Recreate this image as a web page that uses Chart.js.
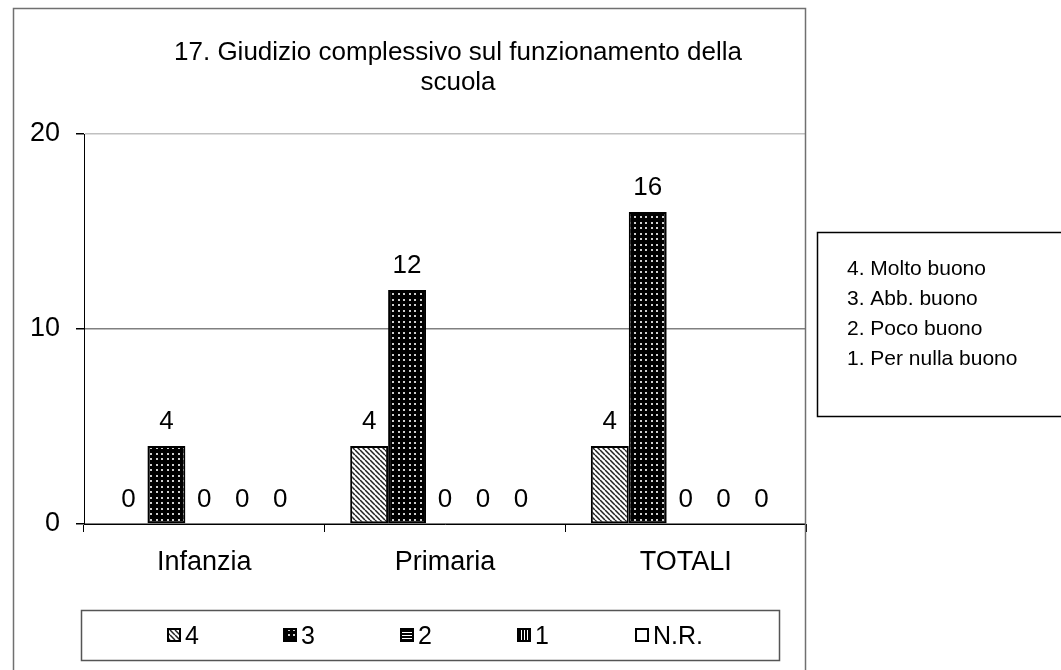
<!DOCTYPE html>
<html><head><meta charset="utf-8">
<script src="https://cdn.jsdelivr.net/npm/chart.js@4"></script>
<style>html,body{margin:0;padding:0;background:#fff;}canvas{display:block}</style>
</head><body>
<canvas id="c" width="1061" height="670"></canvas>
<script>
const titleLines = ['17. Giudizio complessivo sul funzionamento della', 'scuola'];
const categories = ['Infanzia', 'Primaria', 'TOTALI'];
const seriesLabels = ['4', '3', '2', '1', 'N.R.'];
const values4 = [0, 4, 4];
const values3 = [4, 12, 16];
const values2 = [0, 0, 0];
const values1 = [0, 0, 0];
const valuesNR = [0, 0, 0];
const yTicks = [0, 10, 20];
const keyLines = ['4. Molto buono', '3. Abb. buono', '2. Poco buono', '1. Per nulla buono'];

const FONT = '"Liberation Sans", Arial, sans-serif';
const canvas = document.getElementById('c');
const ctx0 = canvas.getContext('2d');

function makeTile(w, h, draw) {
  const c = document.createElement('canvas'); c.width = w; c.height = h;
  const g = c.getContext('2d'); draw(g, w, h); return ctx0.createPattern(c, 'repeat');
}
const patDiag = makeTile(5, 5, (g, w, h) => {
  g.fillStyle = '#fff'; g.fillRect(0, 0, w, h);
  g.strokeStyle = '#222'; g.lineWidth = 1.5; g.beginPath();
  for (let k = -1; k <= 1; k++) { g.moveTo(k * w, 0); g.lineTo(k * w + w, h); }
  g.stroke();
});
const patDots = makeTile(11, 11, (g, w, h) => {
  g.fillStyle = '#000'; g.fillRect(0, 0, w, h);
  g.fillStyle = '#d0d0d0';
  [[2, 2], [7, 2], [2, 7], [7, 7]].forEach(([x, y]) => g.fillRect(x, y, 2, 2));
});
const patHoriz = makeTile(3, 3, (g, w, h) => {
  g.fillStyle = '#000'; g.fillRect(0, 0, w, h);
  g.fillStyle = '#fff'; g.fillRect(0, 2, w, 1);
});
const patVert = makeTile(3, 3, (g, w, h) => {
  g.fillStyle = '#000'; g.fillRect(0, 0, w, h);
  g.fillStyle = '#fff'; g.fillRect(2, 0, 1, h);
});
const fills = [patDiag, patDots, patHoriz, patVert, '#fff'];
const seriesValues = [values4, values3, values2, values1, valuesNR];

const decor = {
  id: 'decor',
  beforeDraw(chart) {
    const c = chart.ctx; c.save(); c.fillStyle = '#fff'; c.fillRect(0, 0, chart.width, chart.height); c.restore();
  },
  afterDatasetsDraw(chart) {
    const c = chart.ctx; c.save();
    c.font = '26px ' + FONT; c.fillStyle = '#000'; c.textAlign = 'center'; c.textBaseline = 'alphabetic';
    chart.data.datasets.forEach((ds, i) => {
      chart.getDatasetMeta(i).data.forEach((bar, j) => {
        c.fillText(String(ds.data[j]), bar.x, bar.y - 17);
      });
    });
    c.restore();
  },
  afterDraw(chart) {
    const c = chart.ctx; c.save();
    c.strokeStyle = '#707070'; c.lineWidth = 1.5;
    c.strokeRect(13.5, 8.5, 792, 700);
    c.fillStyle = '#000'; c.textAlign = 'center'; c.textBaseline = 'alphabetic';
    c.font = '26px ' + FONT;
    c.fillText(titleLines[0], 458, 60);
    c.fillText(titleLines[1], 458, 90);
    c.strokeStyle = '#555'; c.lineWidth = 1.5;
    c.strokeRect(81.5, 610.5, 698, 50);
    const mx = [167, 283, 400, 517, 635];
    c.font = '25px ' + FONT; c.textAlign = 'left';
    chart.data.datasets.forEach((ds, i) => {
      c.fillStyle = fills[i]; c.fillRect(mx[i], 628, 14, 14);
      c.strokeStyle = '#000'; c.lineWidth = 2; c.strokeRect(mx[i] + 1, 629, 12, 12);
      c.fillStyle = '#000'; c.fillText(ds.label, mx[i] + 18, 644);
    });
    c.strokeStyle = '#000'; c.lineWidth = 1.5;
    c.strokeRect(817.5, 232.5, 300, 184);
    c.font = '21px ' + FONT;
    keyLines.forEach((t, i) => c.fillText(t, 847, 275 + i * 30));
    c.restore();
  }
};

new Chart(canvas, {
  type: 'bar',
  data: {
    labels: categories,
    datasets: seriesLabels.map((lab, i) => ({
      label: lab,
      data: seriesValues[i],
      backgroundColor: fills[i],
      borderColor: '#000',
      borderWidth: 2,
      borderSkipped: false,
      categoryPercentage: 0.788,
      barPercentage: 1
    }))
  },
  options: {
    responsive: false,
    animation: false,
    devicePixelRatio: 1,
    layout: { padding: { left: 0, top: 134, right: 255, bottom: 86 } },
    plugins: { legend: { display: false }, title: { display: false }, tooltip: { enabled: false } },
    scales: {
      x: {
        afterFit(s) { s.height = 60; },
        grid: { display: true, drawOnChartArea: false, drawTicks: true, tickLength: 8, tickColor: '#000', offset: true },
        border: { display: true, color: '#000', width: 1 },
        ticks: { color: '#000', font: { family: FONT, size: 27 }, padding: 14, maxRotation: 0 }
      },
      y: {
        min: 0, max: 20,
        afterFit(s) { s.width = 84; },
        afterBuildTicks(s) { s.ticks = yTicks.map(v => ({ value: v })); },
        grid: {
          color: (ctx) => (ctx.tick && ctx.tick.value === 20) ? '#c0c0c0' : '#808080',
          tickColor: '#000', tickLength: 8, lineWidth: 1.5
        },
        border: { display: true, color: '#000', width: 1 },
        ticks: { color: '#000', font: { family: FONT, size: 27 }, padding: 16 }
      }
    }
  },
  plugins: [decor]
});
</script>
</body></html>
